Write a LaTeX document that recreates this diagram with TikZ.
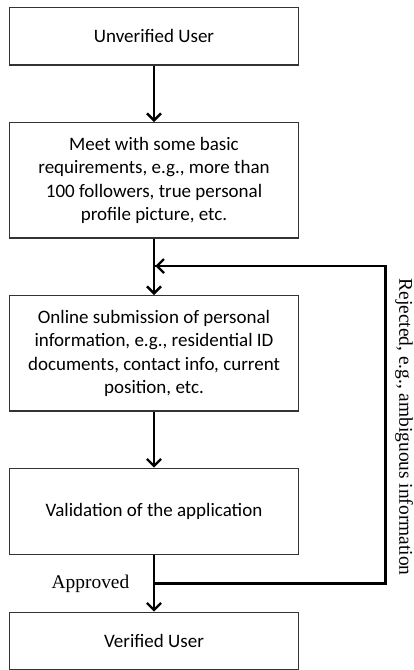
\documentclass[tikz,border=0pt]{standalone}
\usepackage{fontspec}
\setmainfont{Carlito}
\newfontfamily\labelfont{Liberation Serif}
\usetikzlibrary{arrows.meta}
\tikzset{
  flowbox/.style={draw=black!80, line width=1.3pt, minimum width=289pt, inner sep=0pt,
    align=center, font=\fontsize{19}{23.4}\selectfont, text=black},
  flowarrow/.style={line width=2.6pt, -{Straight Barb[length=7pt,width=14pt,line width=2.4pt]}},
  flowline/.style={line width=2.6pt},
  lbl/.style={font=\labelfont\fontsize{19.4}{22}\selectfont, inner sep=0pt}
}
\begin{document}
\begin{tikzpicture}[x=1pt,y=-1pt]
\useasboundingbox (0,0) rectangle (414,670);
\node[flowbox, minimum height=57.7pt] (b1) at (154,36.2) {Unverified User};
\node[flowbox, minimum height=115.3pt] (b2) at (154,180.3) {Meet with some basic\\requirements, e.g., more than\\100 followers, true personal\\profile picture, etc.};
\node[flowbox, minimum height=115.3pt] (b3) at (154,353.3) {Online submission of personal\\information, e.g., residential ID\\documents, contact info, current\\position, etc.};
\node[flowbox, minimum height=86.4pt] (b4) at (154,511.5) {Validation of the application};
\node[flowbox, minimum height=57pt] (b5) at (154,640.8) {Verified User};
\coordinate (j1) at (154,583.3);
\coordinate (r1) at (385.7,583.3);
\coordinate (r2) at (385.7,266);
\coordinate (j2) at (154,266);
\draw[flowarrow] (b1.south) -- (b2.north);
\draw[flowarrow] (b2.south) -- (b3.north);
\draw[flowarrow] (b3.south) -- (b4.north);
\draw[flowarrow] (b4.south) -- (b5.north);
\draw[flowline, line join=miter] (j1) -- (r1) -- (r2) -- ([xshift=1.3pt]j2);
\draw[flowarrow] (r2) -- ([xshift=1.3pt]j2);
\node[lbl, anchor=center] (appr) at (90.5,584) {Approved};
\node[lbl, rotate=-90] (rej) at (404,427) {Rejected, e.g., ambiguous information};
\end{tikzpicture}
\end{document}
